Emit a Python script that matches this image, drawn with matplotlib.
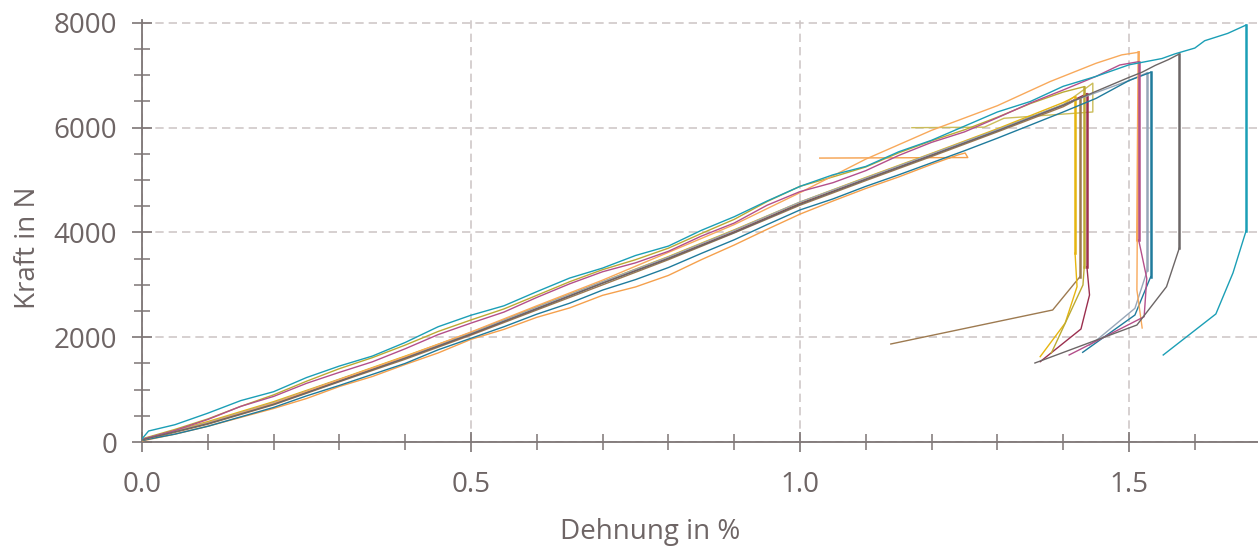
"""
Kraft-Dehnungs-Kurven (Zugversuch), mehrere Proben
"""
import matplotlib.pyplot as plt

plt.rcParams['font.family'] = ['Open Sans', 'DejaVu Sans']

TXT = '#6e6565'
AX = '#7d7575'
GRID = '#cfc8c8'

# ---- Messdaten (aus dem Diagramm abgelesen) ----
# je Probe: Anstieg (x, y) und Nachlauf nach dem Bruch (x, y); Dehnung in %, Kraft in N
x_std = [0.0, 0.1, 0.2, 0.3, 0.4, 0.5, 0.6, 0.7, 0.8, 0.9, 1.0, 1.1, 1.2, 1.3, 1.4]
x_fine = [0.0, 0.05, 0.1, 0.15, 0.2, 0.25, 0.3, 0.35, 0.4, 0.45, 0.5, 0.55, 0.6, 0.65, 0.7,
          0.75, 0.8, 0.85, 0.9, 0.95, 1.0, 1.05, 1.1, 1.15, 1.2, 1.25, 1.3, 1.35, 1.4, 1.45]

teal_x = [0.0, 0.01] + x_fine[1:] + [1.5, 1.55, 1.57, 1.6, 1.615, 1.65, 1.678]
teal_y = [60, 210, 330, 550, 790, 960, 1230, 1450, 1640, 1900, 2200, 2420, 2600, 2870, 3130,
          3320, 3560, 3740, 4040, 4300, 4600, 4880, 5100, 5260, 5540, 5760, 6030, 6300, 6500,
          6790, 6980, 7200, 7320, 7410, 7520, 7660, 7800, 7960]
teal_tx = [1.678, 1.678, 1.658, 1.632, 1.552]
teal_ty = [7960, 4034, 3227, 2444, 1661]

grey_x = x_std + [1.5, 1.52, 1.54, 1.56, 1.5765]
grey_y = [40, 350, 720, 1160, 1600, 2060, 2540, 3030, 3500, 4000, 4540, 5010, 5470, 5940, 6430,
          6960, 7060, 7190, 7300, 7407]
grey_tx = [1.5765, 1.5765, 1.557, 1.512, 1.357]
grey_ty = [7407, 3704, 2965, 2233, 1508]

petrol_x = x_fine + [1.5, 1.533]
petrol_y = [30, 150, 300, 480, 660, 880, 1080, 1290, 1500, 1760, 1980, 2200, 2440, 2650, 2900,
            3100, 3330, 3600, 3860, 4150, 4430, 4640, 4880, 5100, 5330, 5560, 5800, 6050, 6300,
            6560, 6900, 7057]
petrol_tx = [1.533, 1.533, 1.509, 1.4296]
petrol_ty = [7057, 3156, 2424, 1712]

bluegrey_x = x_std + [1.5, 1.528]
bluegrey_y = [50, 370, 750, 1190, 1620, 2080, 2570, 3060, 3530, 4040, 4580, 5040, 5500, 5960, 6440,
              6900, 7050]
bluegrey_tx = [1.528, 1.528, 1.509, 1.451, 1.44]
bluegrey_ty = [7050, 3283, 2552, 1947, 1850]

magenta_x = x_fine + [1.486, 1.5147]
magenta_y = [50, 220, 430, 680, 870, 1120, 1330, 1530, 1780, 2050, 2270, 2480, 2760, 3020, 3250,
             3420, 3640, 3930, 4180, 4520, 4780, 4950, 5180, 5470, 5720, 5920, 6190, 6470, 6720,
             6980, 7197, 7260]
magenta_tx = [1.5147, 1.5147, 1.527, 1.523, 1.409]
magenta_ty = [7260, 3856, 3125, 2392, 1661]

orange1_x = x_std[:11] + [1.1, 1.2, 1.3, 1.38, 1.45, 1.489, 1.5147]
orange1_y = [40, 360, 740, 1190, 1630, 2100, 2600, 3090, 3620, 4150, 4760, 5400, 5950, 6420, 6880,
             7230, 7390, 7440]
orange1_tx = [1.5147, 1.5125, 1.512, 1.52]
orange1_ty = [7440, 3850, 2902, 2176]

orange2_x = x_fine[:25] + [1.24, 1.251, 1.255, 1.03]
orange2_y = [20, 150, 300, 470, 640, 830, 1060, 1250, 1480, 1700, 1960, 2150, 2380, 2560, 2800,
             2960, 3180, 3480, 3760, 4060, 4350, 4600, 4840, 5060, 5300, 5480, 5517, 5430, 5420]

gold_x = x_std + [1.418]
gold_y = [50, 390, 770, 1200, 1640, 2090, 2580, 3060, 3540, 4050, 4580, 5050, 5510, 5980, 6480, 6592]
gold_tx = [1.418, 1.418, 1.421, 1.403, 1.365]
gold_ty = [6592, 3608, 2965, 2270, 1629]

olive1_x = x_fine[:29] + [1.432]
olive1_y = [60, 240, 440, 680, 900, 1160, 1400, 1610, 1850, 2110, 2330, 2540, 2800, 3060, 3290,
            3480, 3700, 3980, 4250, 4590, 4880, 5060, 5250, 5520, 5750, 5960, 6200, 6460, 6680,
            6783]
olive1_tx = [1.432, 1.432, 1.430, 1.382]
olive1_ty = [6783, 3347, 2997, 1699]

olive2_x = x_std + [1.445, 1.445, 1.31, 1.28, 1.17]
olive2_y = [40, 370, 750, 1190, 1620, 2080, 2560, 3050, 3520, 4030, 4560, 5030, 5490, 5960, 6440,
            6850, 6300, 6180, 6010, 6000]

brown_x = x_std + [1.4255]
brown_y = [30, 340, 710, 1150, 1580, 2040, 2520, 3000, 3480, 3990, 4520, 4990, 5450, 5920, 6400, 6567]
brown_tx = [1.4255, 1.4255, 1.384, 1.138]
brown_ty = [6567, 3156, 2520, 1871]

crimson_x = x_std + [1.436]
crimson_y = [40, 360, 740, 1170, 1610, 2060, 2550, 3040, 3510, 4010, 4550, 5020, 5480, 5950, 6430, 6650]
crimson_tx = [1.436, 1.436, 1.440, 1.427, 1.365]
crimson_ty = [6650, 3347, 2806, 2157, 1533]

samples = [
    (orange2_x, orange2_y, None, None, '#f5a04c'),
    (olive2_x, olive2_y, None, None, '#cbbd5a'),
    (brown_x, brown_y, brown_tx, brown_ty, '#9d7a50'),
    (crimson_x, crimson_y, crimson_tx, crimson_ty, '#9b2f4e'),
    (gold_x, gold_y, gold_tx, gold_ty, '#e6b50f'),
    (olive1_x, olive1_y, olive1_tx, olive1_ty, '#bcaa33'),
    (bluegrey_x, bluegrey_y, bluegrey_tx, bluegrey_ty, '#97a6b8'),
    (petrol_x, petrol_y, petrol_tx, petrol_ty, '#1f7b9c'),
    (orange1_x, orange1_y, orange1_tx, orange1_ty, '#f8a95b'),
    (magenta_x, magenta_y, magenta_tx, magenta_ty, '#b44f8b'),
    (grey_x, grey_y, grey_tx, grey_ty, '#6c6666'),
    (teal_x, teal_y, teal_tx, teal_ty, '#1b9fb6'),
]

fig = plt.figure(figsize=(12.58, 5.5), dpi=100)
ax = fig.add_axes([0.11288, 0.19636, 0.8871, 0.7673])

for xs, ys, tx, ty, c in samples:
    ax.plot(xs, ys, color=c, linewidth=1.0, zorder=3)
    if tx is not None:
        # senkrechter Kraftabfall beim Bruch, danach Nachlauf
        ax.plot(tx[:2], ty[:2], color=c, linewidth=1.8, zorder=3)
        ax.plot(tx[1:], ty[1:], color=c, linewidth=1.0, zorder=3)

ax.set_xlim(0, 1.696)
ax.set_ylim(0, 8056)
ax.set_xticks([0.0, 0.5, 1.0, 1.5])
ax.set_xticks([0.1, 0.2, 0.3, 0.4, 0.6, 0.7, 0.8, 0.9, 1.1, 1.2, 1.3, 1.4, 1.6], minor=True)
ax.set_xticklabels(['0.0', '0.5', '1.0', '1.5'])
ax.set_yticks([0, 2000, 4000, 6000, 8000])
ax.set_yticks([500, 1000, 1500, 2500, 3000, 3500, 4500, 5000, 5500, 6500, 7000, 7500], minor=True)

for s in ['top', 'right']:
    ax.spines[s].set_visible(False)
for s in ['left', 'bottom']:
    ax.spines[s].set_color(AX)
    ax.spines[s].set_linewidth(1.3)

ax.tick_params(which='major', direction='inout', length=15, width=1.2, color=AX,
               labelsize=20, labelcolor=TXT)
ax.tick_params(which='minor', direction='inout', length=11.5, width=1.1, color=AX)
ax.tick_params(axis='y', which='major', pad=10.5)
ax.tick_params(axis='x', which='major', pad=13.5)

ax.grid(True, which='major', color=GRID, linestyle=(0, (5, 3)), linewidth=1.2, zorder=0)

ax.set_xlabel('Dehnung in %', fontsize=20, color=TXT, va='center')
ax.xaxis.set_label_coords(0.455, -0.213)
ax.set_ylabel('Kraft in N', fontsize=20, color=TXT, va='center')
ax.yaxis.set_label_coords(-0.102, 0.46)

plt.savefig('out.png', dpi=100)
plt.close()
